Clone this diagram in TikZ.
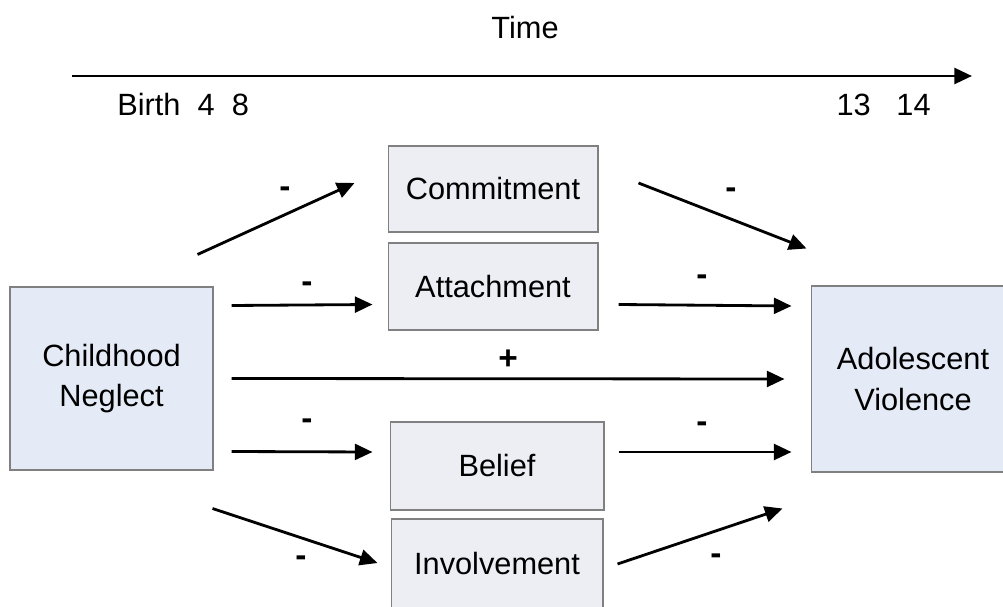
\documentclass[tikz,border=0pt]{standalone}
\usepackage{fontspec}
\setmainfont{Liberation Sans}
\usepackage{tikz}
\usetikzlibrary{arrows.meta,positioning,calc}

\definecolor{bigfill}{HTML}{E5EBF6}
\definecolor{smallfill}{HTML}{ECEEF4}
\definecolor{boxline}{HTML}{808080}

\tikzset{
  bigbox/.style={draw=boxline, line width=0.6pt, fill=bigfill, align=center, inner sep=0pt},
  smallbox/.style={draw=boxline, line width=0.6pt, fill=smallfill, align=center, inner sep=0pt,
    minimum width=4.2cm},
  arr/.style={-{Triangle[length=10pt,width=9pt]}, line width=1.6pt},
  sign/.style={font=\fontsize{19}{21}\selectfont\bfseries, inner sep=0pt}
}

\begin{document}
\begin{tikzpicture}[x=0.02cm, y=-0.02cm, font=\fontsize{17.5}{23}\selectfont]

  \useasboundingbox (0,0) rectangle (1003,607);
  \clip (0,0) rectangle (1003,607);

  % time line
  \node (time) at (525,28) {Time};
  \coordinate (tstart) at (72,76);
  \coordinate (tend) at (972,76);
  \draw[arr] (tstart) -- (tend);
  \node[anchor=west, inner sep=0pt] (early) at (117,105) {Birth\ \ 4\ \ 8};
  \node[anchor=east, inner sep=0pt] (late) at (931,105) {13\ \ \ 14};

  % boxes
  \node[bigbox, minimum width=4.06cm, minimum height=3.66cm] (neglect) at (111.5,378.5) {Childhood\\Neglect};
  \node[bigbox, minimum width=4.08cm, minimum height=3.72cm] (adol) at (913,379) {Adolescent\\Violence};

  \node[smallbox, minimum height=1.72cm] (commit) at (493,189) {Commitment};
  \node[smallbox, minimum height=1.74cm] (attach) at (493,286.5) {Attachment};
  \node[smallbox, minimum width=4.28cm, minimum height=1.76cm] (belief) at (497,466) {Belief};
  \node[smallbox, minimum width=4.24cm, minimum height=1.8cm] (invol) at (497,564) {Involvement};

  % paths into the bonds
  \draw[arr] ($(neglect.north east)+(-16,-32)$) -- ($(commit.west)+(-33,-6)$);
  \draw[arr] ($(neglect.east)+(18,-73)$) -- ($(attach.west)+(-15,18)$);
  \draw[arr] ($(neglect.east)+(18,73)$) -- ($(belief.west)+(-17,-14)$);
  \draw[arr] ($(neglect.south east)+(-1,38)$) -- ($(invol.west)+(-13,-1)$);

  % direct path
  \draw[arr] ($(neglect.east)+(18,0)$) -- ($(adol.west)+(-26,0)$);

  % paths out of the bonds
  \draw[arr] ($(commit.east)+(40,-6)$) -- ($(adol.north west)+(-4,-37)$);
  \draw[arr] ($(attach.east)+(20,18)$) -- ($(adol.west)+(-19,-73)$);
  \draw[arr] ($(belief.east)+(14,-14)$) -- ($(adol.west)+(-19,73)$);
  \draw[arr] ($(invol.east)+(14,0)$) -- ($(adol.south west)+(-28,36)$);

  % signs
  \node[sign] (s1) at (285,192) {-};
  \node[sign] (s2) at (731,193) {-};
  \node[sign] (s3) at (307,287) {-};
  \node[sign] (s4) at (702,280) {-};
  \node[sign] (s5) at (508,360) {+};
  \node[sign] (s6) at (307,424) {-};
  \node[sign] (s7) at (702,427) {-};
  \node[sign] (s8) at (301,561) {-};
  \node[sign] (s9) at (716,559) {-};

\end{tikzpicture}
\end{document}
